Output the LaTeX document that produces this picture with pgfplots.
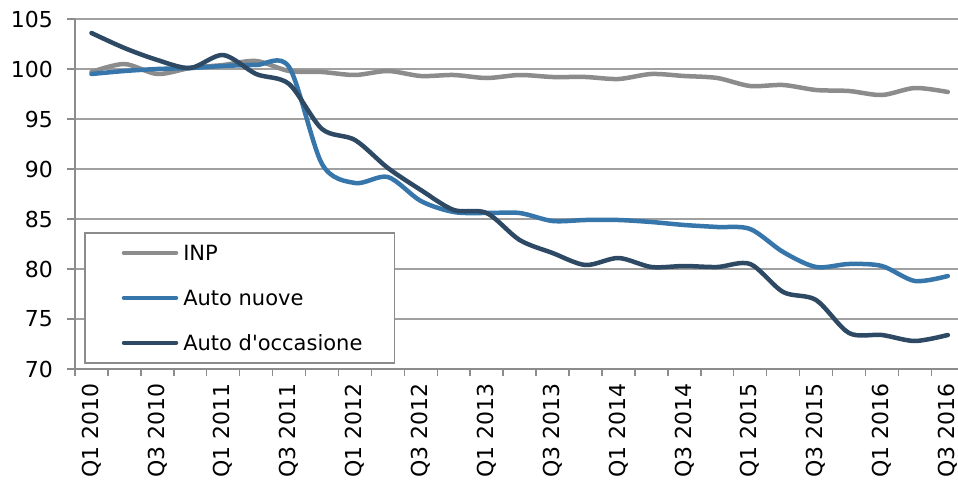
\documentclass[border=0pt]{standalone}
\usepackage{fontspec}
\setmainfont{DejaVu Sans}[Ligatures=TeXOff]
\usepackage{pgfplots}
\pgfplotsset{compat=1.18}
\usepackage{pgfplotstable}
\definecolor{inp}{HTML}{8C8C8C}
\definecolor{nuove}{HTML}{3776AA}
\definecolor{occ}{HTML}{2E4964}
\definecolor{gridc}{HTML}{A0A0A0}
\definecolor{axc}{HTML}{8C8C8C}
\pgfplotstableread{
i inp nuove occ
0 99.7 99.5 103.6
1 100.5 99.8 102.1
2 99.5 100.0 100.9
3 100.1 100.1 100.1
4 100.4 100.3 101.4
5 100.8 100.4 99.5
6 99.8 100.2 98.5
7 99.7 90.5 94.0
8 99.4 88.6 92.9
9 99.8 89.2 90.1
10 99.3 86.8 87.9
11 99.4 85.7 85.9
12 99.1 85.6 85.6
13 99.4 85.6 82.9
14 99.2 84.8 81.6
15 99.2 84.9 80.4
16 99.0 84.9 81.1
17 99.5 84.7 80.2
18 99.3 84.4 80.3
19 99.1 84.2 80.2
20 98.3 84.0 80.5
21 98.4 81.7 77.7
22 97.9 80.2 76.9
23 97.8 80.5 73.6
24 97.4 80.3 73.4
25 98.1 78.8 72.8
26 97.7 79.3 73.4
}\data
\begin{document}
\begin{tikzpicture}
\useasboundingbox (-75bp,-116bp) rectangle (883bp,369bp);
\begin{axis}[
 at={(0,0)}, anchor=south west,
 scale only axis, width=883bp, height=350bp,
 xmin=-0.5, xmax=26.31, ymin=70, ymax=105,
 ytick={70,75,...,105},
 xtick={0,2,...,26},
 xticklabels={Q1 2010,Q3 2010,Q1 2011,Q3 2011,Q1 2012,Q3 2012,Q1 2013,Q3 2013,Q1 2014,Q3 2014,Q1 2015,Q3 2015,Q1 2016,Q3 2016},
 minor xtick={-0.5,0.5,...,25.5},
 axis x line*=bottom, axis y line*=left,
 axis line style={draw=axc, line width=2bp, -},
 ymajorgrids, grid style={draw=gridc, line width=1.5bp},
 tick align=outside,
 major tick length=8bp, minor tick length=7bp,
 tick style={draw=axc, line width=1.5bp},
 major x tick style={draw=none},
 /pgf/number format/assume math mode=true,
 yticklabel style={font=\fontsize{22bp}{26bp}\selectfont, inner sep=0pt, anchor=east, xshift=-14bp},
 xticklabel shift=6bp,
 xticklabel style={font=\fontsize{22bp}{26bp}\selectfont, inner sep=0pt, rotate=90, anchor=east},
 legend style={at={(axis description cs:0.0102,0.3914)}, anchor=north west, draw=axc, line width=1.5bp, inner xsep=37bp, inner ysep=7.5bp, row sep=20bp, column sep=5bp, font=\fontsize{21bp}{25bp}\selectfont, nodes={inner sep=0pt, text height=20bp, text depth=5bp, anchor=base west}},
 legend cell align=left,
 legend image code/.code={\draw[#1, line width=4.5bp, line cap=round] (0bp,7.5bp) -- (52bp,7.5bp);},
]
\addplot[inp, line width=4.5bp, smooth, tension=0.5, line cap=round, line join=round] table[x=i,y=inp]{\data};
\addlegendentry{\makebox[174bp][l]{INP}}
\addplot[nuove, line width=4.5bp, smooth, tension=0.5, line cap=round, line join=round] table[x=i,y=nuove]{\data};
\addlegendentry{\makebox[174bp][l]{Auto nuove}}
\addplot[occ, line width=4.5bp, smooth, tension=0.5, line cap=round, line join=round] table[x=i,y=occ]{\data};
\addlegendentry{\makebox[174bp][l]{Auto d'occasione}}
\end{axis}
\end{tikzpicture}
\end{document}
